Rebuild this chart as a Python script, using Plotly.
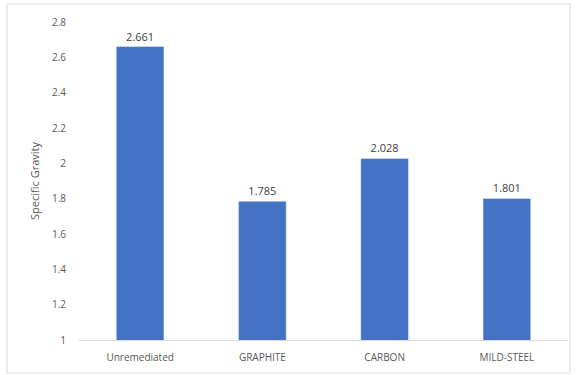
import plotly.graph_objects as go

categories = ["Unremediated", "GRAPHITE", "CARBON", "MILD-STEEL"]
values = [2.661, 1.785, 2.028, 1.801]
y_ticks = [1, 1.2, 1.4, 1.6, 1.8, 2, 2.2, 2.4, 2.6, 2.8]
y_tick_labels = ["1", "1.2", "1.4", "1.6", "1.8", "2", "2.2", "2.4", "2.6", "2.8"]

fig = go.Figure(go.Bar(
    x=categories, y=values,
    marker=dict(color="#4472C4"),
    width=0.39,
    text=[f"{v:.3f}" for v in values],
    textposition="outside",
    textfont=dict(size=11, color="#404040"),
    cliponaxis=False,
))

L, R, T, B = 79, 11, 22, 35
W, H = 579, 375
pw, ph = W - L - R, H - T - B

def px_x(x):
    return (x - L) / pw

def px_y(y):
    return (H - B - y) / ph

fig.update_layout(
    width=W, height=H,
    margin=dict(l=L, r=R, t=T, b=B, autoexpand=False),
    paper_bgcolor="white", plot_bgcolor="white",
    font=dict(family="Open Sans, Liberation Sans, sans-serif", color="#595959", size=10),
    showlegend=False,
    xaxis=dict(showline=True, linecolor="#D9D9D9", linewidth=1, ticks="",
               automargin=False, ticklabelstandoff=8,
               tickfont=dict(size=10, color="#595959")),
    yaxis=dict(range=[1, 2.8], tickvals=y_ticks, ticktext=y_tick_labels,
               showgrid=False, zeroline=False, showline=False,
               automargin=False, ticklabelstandoff=12,
               tickfont=dict(size=10, color="#595959"),
               title=dict(text="Specific Gravity", font=dict(size=11, color="#595959"), standoff=10)),
    shapes=[dict(type="rect", xref="paper", yref="paper",
                 x0=px_x(7), x1=px_x(570), y0=px_y(373), y1=px_y(4),
                 line=dict(color="#D9D9D9", width=1), fillcolor="rgba(0,0,0,0)")],
)

fig.write_html("out.html", config={"displayModeBar": False},
               post_script="document.body.style.margin='0';")
